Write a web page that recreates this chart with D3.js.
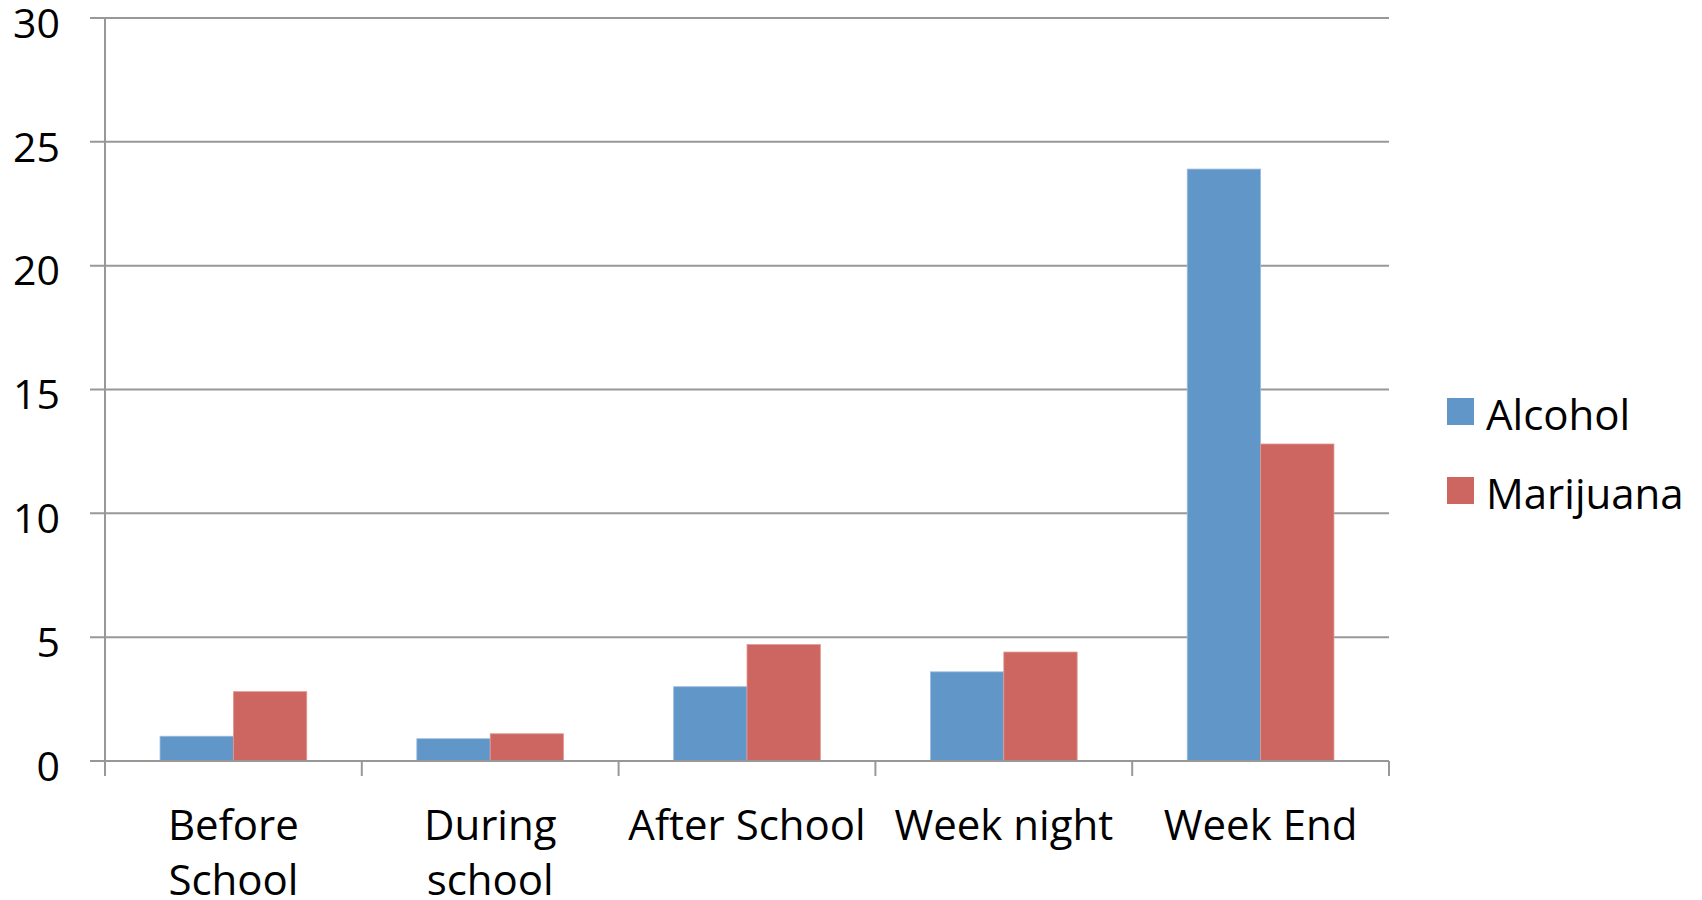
<!DOCTYPE html>
<html><head><meta charset="utf-8">
<script src="https://cdn.jsdelivr.net/npm/d3@7"></script>
<style>body{margin:0;background:#fff}svg{display:block}text{font-family:"Open Sans",Lato,sans-serif;fill:#000}</style>
</head><body><svg id="c" width="1702" height="900"></svg>
<script>
const categories = [["Before","School"],["During","school"],["After School"],["Week night"],["Week End"]];
const seriesNames = ["Alcohol","Marijuana"];
const alcohol = [1.0, 0.9, 3.0, 3.6, 23.9];
const marijuana = [2.8, 1.1, 4.7, 4.4, 12.8];
const yTicks = [0,5,10,15,20,25,30];
const colors = ["#6096C8","#CD6660"];

(function(){
const svg = d3.select("#c");
const pLeft = 105, pRight = 1389, pTop = 18, pBottom = 761;
const keys = categories.map((c,i)=>i);
const x0 = d3.scaleBand().domain(keys).range([pLeft,pRight]).padding(0);
const gap = x0.bandwidth()*0.2143;
const x1 = d3.scaleBand().domain(seriesNames).range([gap, x0.bandwidth()-gap]).padding(0);
const y = d3.scaleLinear().domain([0,30]).range([pBottom,pTop]);

svg.append("g").selectAll("line").data(yTicks).join("line")
  .attr("x1",pLeft-15).attr("x2",pRight).attr("y1",d=>y(d)).attr("y2",d=>y(d))
  .attr("stroke","#989898").attr("stroke-width",2);
svg.append("line").attr("x1",pLeft).attr("x2",pLeft).attr("y1",pTop).attr("y2",pBottom+15)
  .attr("stroke","#989898").attr("stroke-width",2);
svg.append("g").selectAll("text").data(yTicks).join("text")
  .attr("x",60).attr("y",d=>y(d)).attr("dy","0.48em").attr("text-anchor","end")
  .attr("font-size",41).text(d=>d);

const data = seriesNames.map((s,si)=>({s, vals:(si===0?alcohol:marijuana)}));
data.forEach((ser,si)=>{
  svg.append("g").selectAll("rect").data(ser.vals).join("rect")
    .attr("x",(d,i)=>x0(i)+x1(ser.s)).attr("width",x1.bandwidth())
    .attr("y",d=>y(d)).attr("height",d=>y(0)-y(d))
    .attr("fill",colors[si]).attr("stroke", si===0?"#9DBCE0":"#E29A96").attr("stroke-width",0.8);
});

svg.append("line").attr("x1",pLeft-15).attr("x2",pRight).attr("y1",y(0)).attr("y2",y(0))
  .attr("stroke","#989898").attr("stroke-width",2);
const bounds = keys.map(k=>x0(k)).concat([pRight]);
svg.append("g").selectAll("line").data(bounds).join("line")
  .attr("x1",d=>d).attr("x2",d=>d).attr("y1",y(0)).attr("y2",y(0)+15)
  .attr("stroke","#989898").attr("stroke-width",2);

const cl = svg.append("g").selectAll("text").data(categories).join("text")
  .attr("text-anchor","middle").attr("font-size",42)
  .attr("transform",(d,i)=>`translate(${x0(i)+x0.bandwidth()/2},840)`);
cl.selectAll("tspan").data(d=>d).join("tspan").attr("x",0).attr("dy",(d,i)=>i===0?0:55).text(d=>d);

const lg = svg.append("g").selectAll("g").data(seriesNames).join("g")
  .attr("transform",(d,i)=>`translate(1447,${398+i*79})`);
lg.append("rect").attr("width",27).attr("height",27).attr("fill",(d,i)=>colors[i]);
lg.append("text").attr("x",39).attr("y",13.5).attr("dy","0.45em").attr("font-size",42).text(d=>d);
})();
</script></body></html>
